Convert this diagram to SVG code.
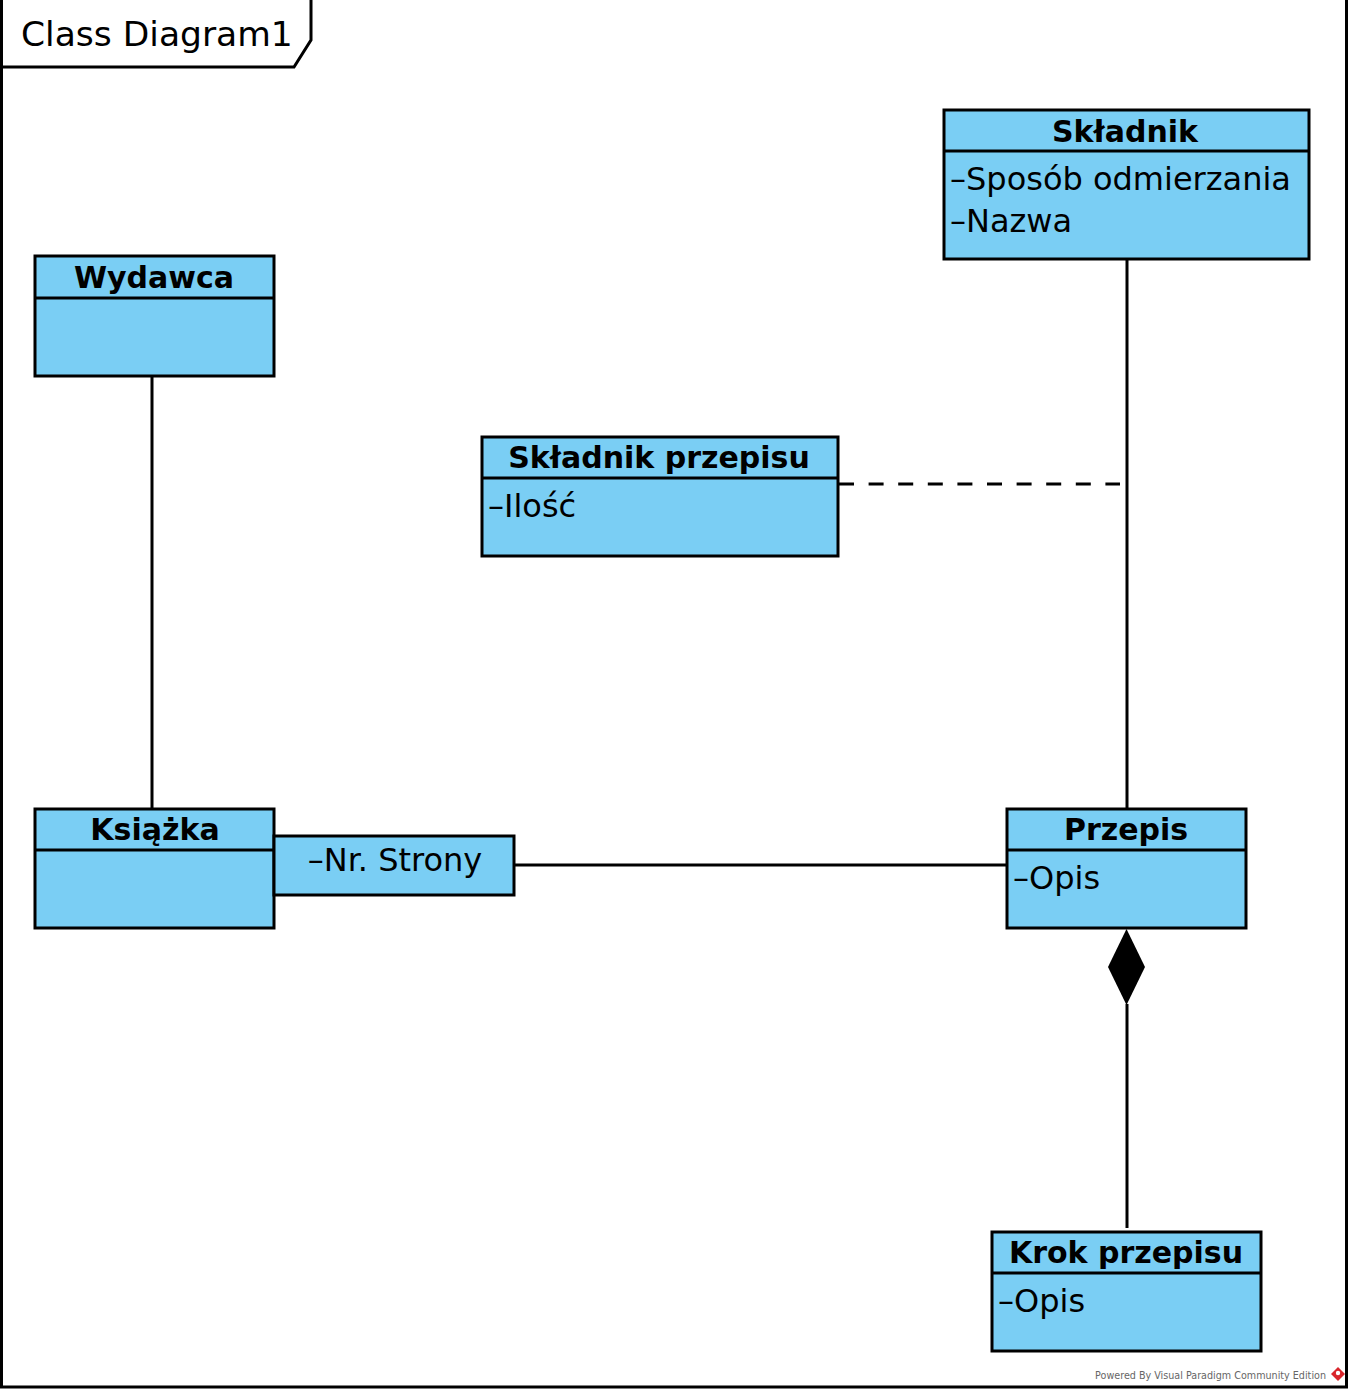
<svg xmlns="http://www.w3.org/2000/svg" width="1350" height="1392" viewBox="0 0 1350 1392">
<defs>
<style>
.box{fill:#7acef4;stroke:#000;stroke-width:3}
.div{stroke:#000;stroke-width:3}
.ttl{font-family:"DejaVu Sans",Verdana,sans-serif;font-weight:bold;font-size:30px;text-anchor:middle;fill:#000}
.att{font-family:"DejaVu Sans",Verdana,sans-serif;font-size:32px;fill:#000}
.ln{stroke:#000;stroke-width:3;fill:none}
</style>
</defs>
<rect x="0" y="0" width="1350" height="1392" fill="#fff"/>
<g id="frame">
<path d="M1.5,0 V1387 H1346.5 V0" fill="none" stroke="#000" stroke-width="3"/>
<path d="M0,67 H294 L311,40 V0" fill="none" stroke="#000" stroke-width="3"/>
<text x="21" y="46" font-family="'DejaVu Sans',Verdana,sans-serif" font-size="34.5" fill="#000">Class Diagram1</text>
</g>
<g id="connectors">
<line class="ln" x1="152" y1="376" x2="152" y2="809"/>
<line class="ln" x1="1127" y1="259" x2="1127" y2="809"/>
<line class="ln" x1="839" y1="484" x2="1120" y2="484" stroke-dasharray="15,14.6"/>
<line class="ln" x1="514" y1="865" x2="1007" y2="865"/>
<line class="ln" x1="1127" y1="1004" x2="1127" y2="1228"/>
<polygon points="1126.5,929 1145,967 1126.5,1005 1108,967" fill="#000"/>
</g>
<g id="skladnik">
<rect class="box" x="944" y="110" width="365" height="149"/>
<line class="div" x1="944" y1="151" x2="1309" y2="151"/>
<text class="ttl" x="1125" y="142">Składnik</text>
<text class="att" x="950" y="190">–Sposób odmierzania</text>
<text class="att" x="950" y="232">–Nazwa</text>
</g>
<g id="wydawca">
<rect class="box" x="35" y="256" width="239" height="120"/>
<line class="div" x1="35" y1="298" x2="274" y2="298"/>
<text class="ttl" x="154" y="288">Wydawca</text>
</g>
<g id="skladnik-przepisu">
<rect class="box" x="482" y="437" width="356" height="119"/>
<line class="div" x1="482" y1="478" x2="838" y2="478"/>
<text class="ttl" x="659" y="468">Składnik przepisu</text>
<text class="att" x="488" y="517">–Ilość</text>
</g>
<g id="ksiazka">
<rect class="box" x="35" y="809" width="239" height="119"/>
<line class="div" x1="35" y1="850" x2="274" y2="850"/>
<text class="ttl" x="155" y="840">Książka</text>
</g>
<g id="qualifier">
<rect class="box" x="274" y="836" width="240" height="59"/>
<text class="att" x="395" y="871" text-anchor="middle">–Nr. Strony</text>
</g>
<g id="przepis">
<rect class="box" x="1007" y="809" width="239" height="119"/>
<line class="div" x1="1007" y1="850" x2="1246" y2="850"/>
<text class="ttl" x="1126" y="840">Przepis</text>
<text class="att" x="1013" y="889">–Opis</text>
</g>
<g id="krok-przepisu">
<rect class="box" x="992" y="1232" width="269" height="119"/>
<line class="div" x1="992" y1="1273" x2="1261" y2="1273"/>
<text class="ttl" x="1126" y="1263">Krok przepisu</text>
<text class="att" x="998" y="1312">–Opis</text>
</g>
<g id="watermark">
<text x="1326" y="1379" text-anchor="end" font-family="'DejaVu Sans',Verdana,sans-serif" font-size="9.6" fill="#666">Powered By Visual Paradigm Community Edition</text>
<polygon points="1338,1367 1345,1374 1338,1381 1331,1374" fill="#d9262c"/>
<circle cx="1338" cy="1373" r="2.2" fill="#fff"/>
</g>
</svg>
